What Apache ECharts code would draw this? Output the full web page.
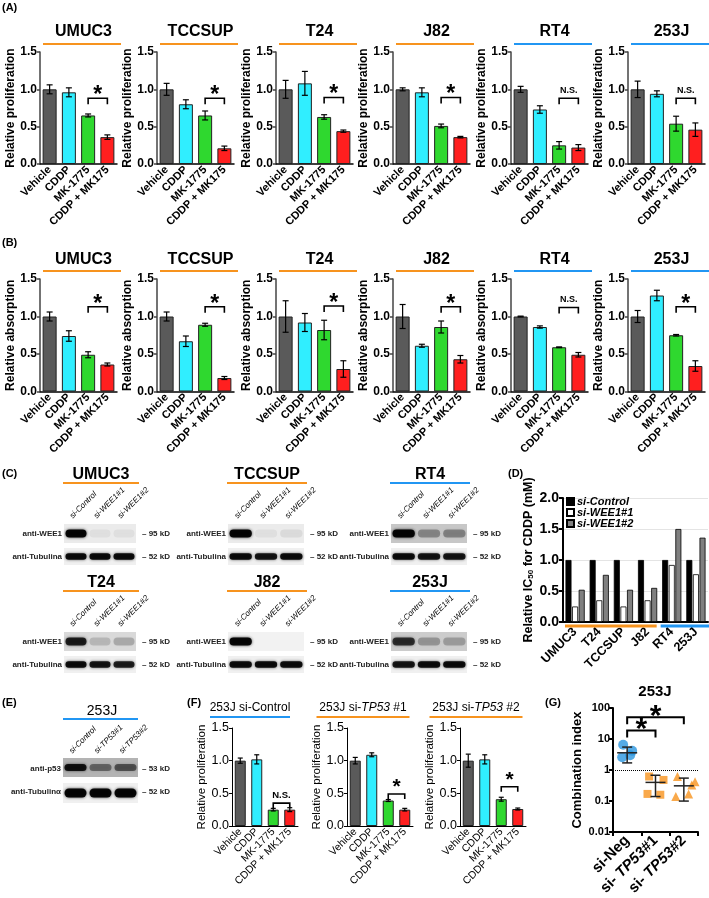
<!DOCTYPE html>
<html><head><meta charset="utf-8">
<script src="https://cdn.jsdelivr.net/npm/echarts@6/dist/echarts.min.js"></script>
<style>html,body{margin:0;padding:0;background:#fff}#c{width:709px;height:898px}</style>
</head><body><div id="c"></div>
<script>
// ---------------- DATA ----------------
const treatments = ['Vehicle', 'CDDP', 'MK-1775', 'CDDP + MK175'];
const abCells = ['UMUC3', 'TCCSUP', 'T24', 'J82', 'RT4', '253J'];
const abGroup = ['o', 'o', 'o', 'o', 'b', 'b'];

const prolifMeans = [
  [1.00, 0.96, 0.65, 0.36],
  [1.00, 0.80, 0.65, 0.21],
  [1.00, 1.08, 0.63, 0.44],
  [1.00, 0.96, 0.51, 0.36],
  [1.00, 0.73, 0.25, 0.22],
  [1.00, 0.94, 0.54, 0.46]];
const prolifErrs = [
  [0.06, 0.06, 0.02, 0.03],
  [0.08, 0.06, 0.06, 0.03],
  [0.12, 0.16, 0.03, 0.015],
  [0.02, 0.06, 0.025, 0.01],
  [0.04, 0.05, 0.05, 0.04],
  [0.11, 0.04, 0.10, 0.09]];
const prolifSig = ['*', '*', '*', '*', 'N.S.', 'N.S.'];
const prolifSigY = [0.88, 0.88, 0.89, 0.89, 0.88, 0.88];

const absMeans = [
  [1.00, 0.74, 0.49, 0.36],
  [1.00, 0.67, 0.89, 0.18],
  [1.00, 0.92, 0.82, 0.30],
  [1.00, 0.61, 0.86, 0.43],
  [1.00, 0.86, 0.59, 0.49],
  [1.00, 1.28, 0.75, 0.34]];
const absErrs = [
  [0.06, 0.07, 0.04, 0.02],
  [0.06, 0.07, 0.02, 0.02],
  [0.21, 0.12, 0.13, 0.11],
  [0.16, 0.02, 0.08, 0.05],
  [0.005, 0.015, 0.005, 0.03],
  [0.08, 0.07, 0.01, 0.07]];
const absSig = ['*', '*', '*', '*', 'N.S.', '*'];
const absSigY = [1.13, 1.13, 1.14, 1.13, 1.12, 1.13];

const cBlotCells = ['UMUC3', 'TCCSUP', 'RT4', 'T24', 'J82', '253J'];
const cBlotGroup = ['o', 'o', 'b', 'o', 'o', 'b'];
const cLanes = ['si-Control', 'si-WEE1#1', 'si-WEE1#2'];
const cWee1 = [[0.95, 0.05, 0.05], [0.95, 0.05, 0.07], [0.95, 0.3, 0.32], [0.8, 0.15, 0.2], [0.95, 0.0, 0.0], [0.7, 0.25, 0.22]];
const cTub = [[0.9, 0.9, 0.9], [0.9, 0.85, 0.9], [0.9, 0.85, 0.85], [0.9, 0.85, 0.8], [0.9, 0.9, 0.9], [0.85, 0.9, 0.9]];
const cBg = [0.08, 0.08, 0.22, 0.15, 0.05, 0.2];

const dCells = ['UMUC3', 'T24', 'TCCSUP', 'J82', 'RT4', '253J'];
const dSeriesNames = ['si-Control', 'si-WEE1#1', 'si-WEE1#2'];
const dControl = [1.00, 1.00, 1.00, 1.00, 1.00, 1.00];
const dWee1n1 = [0.25, 0.35, 0.25, 0.35, 0.92, 0.77];
const dWee1n2 = [0.52, 0.76, 0.52, 0.55, 1.50, 1.36];

const eLanes = ['si-Control', 'si-TP53#1', 'si-TP53#2'];
const eP53 = [0.85, 0.4, 0.5];
const eTub = [0.95, 0.95, 0.95];

const fTitles = ['253J si-Control', '253J si-{i|TP53} #1', '253J si-{i|TP53} #2'];
const fGroup = ['b', 'o', 'o'];
const fMeans = [[1.00, 1.02, 0.25, 0.25], [1.00, 1.09, 0.39, 0.25], [1.00, 1.02, 0.41, 0.26]];
const fErrs = [[0.04, 0.07, 0.02, 0.03], [0.05, 0.03, 0.015, 0.02], [0.10, 0.07, 0.03, 0.015]];
const fSig = ['N.S.', '*', '*'];
const fSigY = [0.35, 0.49, 0.60];

const gCats = ['si-Neg', 'si-TP53#1', 'si-TP53#2'];
const gNeg = [6.5, 4.2, 2.6, 3.0];
const gTP1 = [0.62, 0.48, 0.17, 0.16];
const gTP2 = [0.62, 0.33, 0.14, 0.17, 0.42];
const gMean = [3.6, 0.40, 0.31];
const gSdLow = [1.7, 0.14, 0.10];
const gSdHigh = [5.5, 0.68, 0.55];
const gSig = [[0, 2, 50], [0, 1, 19]];

// ---------------- STYLE ----------------
const FONT = "'Liberation Sans', Arial, Helvetica, sans-serif";
const ORANGE = '#f7931e', BLUE = '#2196f3';
const grpColor = g => g === 'o' ? ORANGE : BLUE;
const barColors = ['#5a5a5a', '#30eeff', '#2fd82f', '#ff1f1f'];

const option = {
  animation: false,
  backgroundColor: '#fff',
  textStyle: { fontFamily: FONT },
  grid: [], xAxis: [], yAxis: [], series: [], graphic: [], legend: []
};
const G = option.graphic;

function txt(x, y, text, o) {
  o = o || {};
  const st = {
    text: text, fill: o.color || '#000', fontSize: o.size || 12, fontWeight: o.weight || 'normal',
    fontStyle: o.style || 'normal', fontFamily: FONT,
    align: o.align || 'center', verticalAlign: o.valign || 'middle',
    textAlign: o.align || 'center', textVerticalAlign: o.valign || 'middle'
  };
  if (o.rich) st.rich = o.rich;
  const el = { type: 'text', x: x, y: y, style: st, z: 10 };
  if (o.rot) el.rotation = o.rot;
  return el;
}
function hline(x1, x2, y, color, w) {
  return { type: 'line', shape: { x1: x1, y1: y, x2: x2, y2: y }, style: { stroke: color, lineWidth: w || 2 }, z: 10 };
}

function errRender(capW, lw) {
  return function (params, api) {
    const x = api.value(0), m = api.value(1), e = api.value(2);
    const t = api.coord([x, m + e]), b = api.coord([x, m - e]);
    const s = { stroke: '#000', lineWidth: lw };
    return { type: 'group', children: [
      { type: 'line', shape: { x1: t[0], y1: t[1], x2: b[0], y2: b[1] }, style: s },
      { type: 'line', shape: { x1: t[0] - capW, y1: t[1], x2: t[0] + capW, y2: t[1] }, style: s },
      { type: 'line', shape: { x1: b[0] - capW, y1: b[1], x2: b[0] + capW, y2: b[1] }, style: s }
    ] };
  };
}
function sigRender(text, tick, starSize, nsSize, starDy, lw) {
  return function (params, api) {
    const a = api.coord([api.value(0), api.value(2)]);
    const b = api.coord([api.value(1), api.value(2)]);
    const y = a[1];
    const star = text === '*';
    return { type: 'group', children: [
      { type: 'polyline', shape: { points: [[a[0], y + tick], [a[0], y], [b[0], y], [b[0], y + tick]] }, style: { stroke: '#000', lineWidth: lw, fill: null } },
      { type: 'text', x: (a[0] + b[0]) / 2, y: star ? y + starDy : y - 3, style: {
        text: text, fill: '#000', fontFamily: FONT, fontWeight: 'bold', fontSize: star ? starSize : nsSize,
        align: 'center', verticalAlign: star ? 'middle' : 'bottom', textAlign: 'center', textVerticalAlign: star ? 'middle' : 'bottom' } }
    ] };
  };
}

function addBarPanel(c) {
  const idx = option.grid.length;
  option.grid.push({ left: c.left, top: c.top, width: c.width, height: c.height });
  option.xAxis.push({
    type: 'category', gridIndex: idx, data: treatments,
    axisLine: { lineStyle: { color: '#000', width: c.axisW } }, axisTick: { show: false },
    axisLabel: { interval: 0, rotate: 45, fontSize: c.xFont, fontWeight: c.fw, color: '#000', margin: c.xMargin }
  });
  option.yAxis.push({
    type: 'value', gridIndex: idx, min: 0, max: 1.5, interval: 0.5,
    axisLine: { show: true, lineStyle: { color: c.yAxisColor, width: c.axisW } },
    axisTick: { show: true, length: 3, lineStyle: { color: c.yAxisColor, width: c.axisW } },
    splitLine: { show: false },
    axisLabel: { formatter: v => v.toFixed(1), fontSize: c.yFont, fontWeight: c.fw, color: '#000', margin: 3 },
    name: c.yName, nameLocation: 'middle', nameGap: c.nameGap,
    nameTextStyle: { fontSize: c.nameFont, fontWeight: c.fw, color: '#000' }
  });
  option.series.push({
    type: 'bar', xAxisIndex: idx, yAxisIndex: idx, barWidth: c.barWidth,
    data: c.means.map((v, i) => ({ value: v, itemStyle: { color: barColors[i] } })),
    itemStyle: { borderColor: '#222', borderWidth: 1 }
  });
  option.series.push({
    type: 'custom', xAxisIndex: idx, yAxisIndex: idx, z: 5,
    data: c.means.map((v, i) => [i, v, c.errs[i]]), encode: { x: 0, y: 1 },
    renderItem: errRender(c.capW, 1.2)
  });
  option.series.push({
    type: 'custom', xAxisIndex: idx, yAxisIndex: idx, z: 5,
    data: [[2, 3, c.sigY]], encode: { x: [0, 1], y: 2 },
    renderItem: sigRender(c.sig, c.tick, c.starSize, c.nsSize, c.starDy, 1.6)
  });
}

// ---------------- PANEL A & B ----------------
const abLefts = [40, 157, 276, 393, 511, 628];
const abRows = [
  { top: 52, h: 112, means: prolifMeans, errs: prolifErrs, sig: prolifSig, sigY: prolifSigY, name: 'Relative proliferation', titleY: 32, lineY: 44 },
  { top: 279, h: 112.5, means: absMeans, errs: absErrs, sig: absSig, sigY: absSigY, name: 'Relative absorption', titleY: 260, lineY: 271 }
];
abRows.forEach(r => {
  abLefts.forEach((L, k) => {
    addBarPanel({
      left: L, top: r.top, width: 77, height: r.h, means: r.means[k], errs: r.errs[k],
      sig: r.sig[k], sigY: r.sigY[k], yName: r.name, fw: 'bold', axisW: 1.5, yAxisColor: '#444',
      xFont: 11, yFont: 12, nameFont: 12, nameGap: 22, xMargin: 4, barWidth: 14, capW: 3,
      tick: 6, starSize: 23, nsSize: 9, starDy: -2.5
    });
    G.push(txt(L + 43.5, r.titleY, abCells[k], { size: 16, weight: 'bold' }));
    G.push(hline(L + 3, L + 81, r.lineY, grpColor(abGroup[k]), 2));
  });
});

// panel letters
[['(A)', 2, 8], ['(B)', 2, 243], ['(C)', 2, 474], ['(D)', 508, 474], ['(E)', 2, 703], ['(F)', 187, 703], ['(G)', 545, 703]]
  .forEach(p => G.push(txt(p[1], p[2], p[0], { size: 11, weight: 'bold', align: 'left' })));

// ---------------- BLOTS (C, E) ----------------
function gray(l) { const v = Math.round(255 * (1 - l)); return 'rgb(' + v + ',' + v + ',' + v + ')'; }
function blot(x, y, w, h, bg, bands, bandH) {
  G.push({ type: 'rect', shape: { x: x, y: y, width: w, height: h }, style: { fill: gray(bg) }, z: 5 });
  const lw = w / bands.length;
  bands.forEach((v, i) => {
    if (v <= 0.01) return;
    G.push({ type: 'rect', shape: { x: x + lw * i + 1.5, y: y + h / 2 - bandH / 2, width: lw - 3, height: bandH, r: bandH / 2 },
      style: { fill: 'rgba(0,0,0,' + v + ')', shadowBlur: 3, shadowColor: 'rgba(0,0,0,' + (v * 0.8) + ')' }, z: 6 });
  });
}
function blotSet(x, w, dy, title, grp, lanes, top, bot, bg, topName, botName, topKd, botKd, bgTop, bgBot) {
  G.push(txt(x + w / 2 + 1, 475 + dy, title, { size: 16, weight: 'bold' }));
  G.push(hline(x - 1, x + w + 3, 483 + dy, grpColor(grp), 2));
  lanes.forEach((ln, i) => {
    G.push(txt(x + w * (i + 0.5) / 3 - 2, 520 + dy, ln, { size: 8, style: 'italic', align: 'left', valign: 'bottom', rot: Math.PI / 4 }));
  });
  blot(x, 524 + dy, w, 19, bgTop, top, 8);
  blot(x, 548 + dy, w, 17, bgBot, bot, 6.5);
  G.push(txt(x - 2, 534 + dy, topName, { size: 8, weight: 'bold', align: 'right', color: '#222' }));
  G.push(txt(x - 2, 557 + dy, botName, { size: 8, weight: 'bold', align: 'right', color: '#222' }));
  G.push(txt(x + w + 6, 534 + dy, '\u2013 ' + topKd, { size: 8, weight: 'bold', align: 'left', color: '#222' }));
  G.push(txt(x + w + 6, 557 + dy, '\u2013 ' + botKd, { size: 8, weight: 'bold', align: 'left', color: '#222' }));
}
const cCols = [[64, 72], [228, 76], [391, 76]];
cBlotCells.forEach((cell, k) => {
  const col = cCols[k % 3];
  const dy = k < 3 ? 0 : 108;
  blotSet(col[0], col[1], dy, cell, cBlotGroup[k], cLanes, cWee1[k], cTub[k], cBg[k], 'anti-WEE1', 'anti-Tubulina', '95 kD', '52 kD', cBg[k], 0.06);
});
// E
(function () {
  const x = 63, w = 75;
  G.push(txt(102, 711, '253J', { size: 14 }));
  G.push(hline(63, 138, 719, BLUE, 2));
  eLanes.forEach((ln, i) => G.push(txt(x + w * (i + 0.5) / 3 - 2, 755, ln, { size: 8, style: 'italic', align: 'left', valign: 'bottom', rot: Math.PI / 4 })));
  blot(x, 758, w, 19, 0.3, eP53, 7);
  blot(x, 783, w, 20, 0.06, eTub, 9);
  G.push(txt(x - 2, 769, 'anti-p53', { size: 8, weight: 'bold', align: 'right', color: '#222' }));
  G.push(txt(x - 2, 792, 'anti-Tubulin\u03b1', { size: 8, weight: 'bold', align: 'right', color: '#222' }));
  G.push(txt(x + w + 4, 769, '\u2013 53 kD', { size: 8, weight: 'bold', align: 'left', color: '#222' }));
  G.push(txt(x + w + 4, 792, '\u2013 52 kD', { size: 8, weight: 'bold', align: 'left', color: '#222' }));
})();

// ---------------- PANEL D ----------------
(function () {
  const idx = option.grid.length;
  const L = 563, W = 145;
  option.grid.push({ left: L, top: 498, width: W, height: 124 });
  option.xAxis.push({
    type: 'category', gridIndex: idx, data: dCells,
    axisLine: { lineStyle: { color: '#000', width: 2 } }, axisTick: { show: false },
    axisLabel: { interval: 0, rotate: 45, fontSize: 12.5, fontWeight: 'bold', color: '#000', margin: 8 }
  });
  option.yAxis.push({
    type: 'value', gridIndex: idx, min: 0, max: 2, interval: 0.5,
    axisLine: { show: true, lineStyle: { color: '#000', width: 2 } },
    axisTick: { show: true, length: 4, lineStyle: { color: '#000', width: 2 } },
    splitLine: { show: true, lineStyle: { color: '#e4e4e4', width: 1 } },
    axisLabel: { formatter: v => v.toFixed(1), fontSize: 14, fontWeight: 'bold', color: '#000', margin: 4 },
    name: 'Relative IC{sub|50} for CDDP (mM)', nameLocation: 'middle', nameGap: 28,
    nameTextStyle: { fontSize: 12.5, fontWeight: 'bold', color: '#000',
      rich: { sub: { fontSize: 8, fontWeight: 'bold', fontFamily: FONT, color: '#000', verticalAlign: 'bottom', padding: [5, 0, 0, 0] } } }
  });
  const cols = ['#000', '#fff', '#808080'];
  [dControl, dWee1n1, dWee1n2].forEach((d, i) => {
    option.series.push({
      type: 'bar', name: dSeriesNames[i], xAxisIndex: idx, yAxisIndex: idx, data: d,
      barWidth: 6, barGap: '10%', itemStyle: { color: cols[i], borderColor: '#000', borderWidth: 0.8 }
    });
  });
  option.legend.push({
    data: dSeriesNames, orient: 'vertical', left: 566, top: 496, itemWidth: 7, itemHeight: 7, itemGap: 0,
    icon: 'rect', padding: 0,
    textStyle: { fontStyle: 'italic', fontWeight: 'bold', fontSize: 11, color: '#000', padding: [0, 0, 0, -2] }
  });
  const band = W / dCells.length;
  G.push(hline(L + 2, L + 4 * band - 3, 626, ORANGE, 3));
  G.push(hline(L + 4 * band + 1, L + 6 * band + 1, 626, BLUE, 3));
})();

// ---------------- PANEL F ----------------
const fLefts = [232, 347, 460];
const fTitleC = [18, 16, 16];
const fLineHalf = [40, 46.5, 46.5];
fLefts.forEach((L, k) => {
  addBarPanel({
    left: L, top: 728, width: 66, height: 98, means: fMeans[k], errs: fErrs[k],
    sig: fSig[k], sigY: fSigY[k], yName: 'Relative proliferation', fw: 'normal', axisW: 1, yAxisColor: '#000',
    xFont: 10.5, yFont: 12.5, nameFont: 11.5, nameGap: 21, xMargin: 4, barWidth: 11, capW: 2.5,
    tick: 5, starSize: 21, nsSize: 9.5, starDy: -7
  });
  G.push(txt(L + fTitleC[k], 708, fTitles[k], { size: 12, rich: { i: { fontStyle: 'italic', fontSize: 12, fontFamily: FONT, fill: '#000', color: '#000' } } }));
  G.push(hline(L + fTitleC[k] - fLineHalf[k], L + fTitleC[k] + fLineHalf[k], 717, grpColor(fGroup[k]), 2));
});

// ---------------- PANEL G ----------------
(function () {
  const idx = option.grid.length;
  option.grid.push({ left: 613, top: 708, width: 85, height: 125 });
  option.xAxis.push({
    type: 'category', gridIndex: idx, data: gCats,
    axisLine: { lineStyle: { color: '#000', width: 2 } }, axisTick: { show: true, length: 4, lineStyle: { width: 2 } },
    axisLabel: { interval: 0, rotate: 45, fontSize: 15, fontWeight: 'bold', color: '#000', margin: 6,
      formatter: v => v.replace('TP53', ' {i|TP53}'),
      rich: { i: { fontStyle: 'italic', fontWeight: 'bold', fontSize: 15, fontFamily: FONT, color: '#000' } } }
  });
  option.yAxis.push({
    type: 'log', logBase: 10, gridIndex: idx, min: 0.01, max: 100,
    axisLine: { show: true, lineStyle: { color: '#000', width: 2 } },
    axisTick: { show: true, length: 4, lineStyle: { width: 2 } }, splitLine: { show: false },
    axisLabel: { fontSize: 11, fontWeight: 'bold', color: '#000', margin: 3,
      formatter: v => v >= 1 ? String(Math.round(v)) : (v >= 0.1 ? '0.1' : '0.01') },
    name: 'Combination index', nameLocation: 'middle', nameGap: 29,
    nameTextStyle: { fontSize: 13, fontWeight: 'bold', color: '#000' }
  });
  const jitPattern = [-4, 5, -5, 3, 7];
  const groups = [[gNeg, 'circle', '#2b96e0', 10], [gTP1, 'rect', ORANGE, 8], [gTP2, 'triangle', ORANGE, 9]];
  groups.forEach((g, gi) => {
    option.series.push({
      type: 'scatter', xAxisIndex: idx, yAxisIndex: idx, symbol: g[1], symbolSize: g[3],
      data: g[0].map((v, j) => ({ value: [gi, v], symbolOffset: [jitPattern[j] * (gi === 0 ? 1 : 1.6), 0] })),
      itemStyle: { color: g[2] },
      markLine: gi === 0 ? { silent: true, symbol: 'none', data: [{ yAxis: 1 }], label: { show: false },
        lineStyle: { type: 'dotted', color: '#000', width: 1 } } : undefined
    });
  });
  option.series.push({
    type: 'custom', xAxisIndex: idx, yAxisIndex: idx, z: 6,
    data: gMean.map((m, i) => [i, m, gSdLow[i], gSdHigh[i]]), encode: { x: 0, y: 1 },
    renderItem: function (params, api) {
      const x = api.value(0);
      const m = api.coord([x, api.value(1)]), lo = api.coord([x, api.value(2)]), hi = api.coord([x, api.value(3)]);
      const s = { stroke: '#222', lineWidth: 1.5 };
      return { type: 'group', children: [
        { type: 'line', shape: { x1: m[0], y1: lo[1], x2: m[0], y2: hi[1] }, style: s },
        { type: 'line', shape: { x1: m[0] - 10, y1: m[1], x2: m[0] + 10, y2: m[1] }, style: s },
        { type: 'line', shape: { x1: m[0] - 5, y1: lo[1], x2: m[0] + 5, y2: lo[1] }, style: s },
        { type: 'line', shape: { x1: m[0] - 5, y1: hi[1], x2: m[0] + 5, y2: hi[1] }, style: s }
      ] };
    }
  });
  option.series.push({
    type: 'custom', xAxisIndex: idx, yAxisIndex: idx, z: 6,
    data: gSig, encode: { x: [0, 1], y: 2 },
    renderItem: sigRender('*', 7, 30, 10, -1, 2)
  });
  G.push(txt(655, 692, '253J', { size: 15, weight: 'bold' }));
})();

const chart = echarts.init(document.getElementById('c'), null, { renderer: 'canvas' });
chart.setOption(option);
</script>
</body></html>
